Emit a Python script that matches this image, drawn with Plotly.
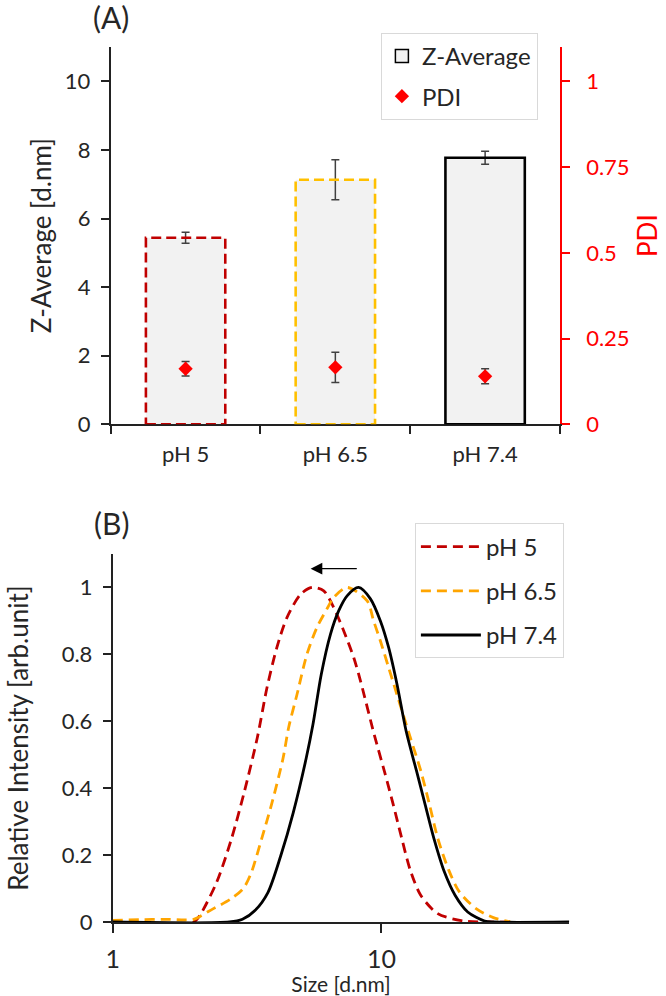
import math
import plotly.graph_objects as go

# ---------------- Panel A data ----------------
ph_labels = ["pH 5", "pH 6.5", "pH 7.4"]
z_average = [5.44, 7.13, 7.77]
z_average_err = [0.16, 0.58, 0.19]
pdi = [0.162, 0.166, 0.140]
pdi_err = [0.021, 0.044, 0.022]

# ---------------- Panel B data ----------------
size_ph5 = [1.0, 2.0, 2.11, 2.44, 2.77, 3.09, 3.45, 3.75, 4.08, 4.45, 5.01, 5.52, 6.10,
            6.64, 7.24, 7.89, 8.36, 9.40, 10.3, 11.07, 11.9, 12.8, 14.0, 16.2, 20.2, 25.1, 30.0]
int_ph5 = [0.0, 0.0, 0.02, 0.12, 0.25, 0.39, 0.55, 0.70, 0.82, 0.91, 0.98, 1.0, 0.99,
           0.94, 0.87, 0.79, 0.72, 0.56, 0.445, 0.35, 0.25, 0.155, 0.08, 0.025, 0.003, 0.0, 0.0]

size_ph65 = [1.0, 1.26, 1.58, 1.86, 2.0, 2.37, 2.74, 3.06, 3.27, 3.58, 3.92, 4.30, 4.52,
             4.85, 5.28, 5.75, 6.31, 6.64, 7.45, 8.85, 9.35, 9.91, 10.64, 11.12, 12.82,
             14.03, 15.1, 16.2, 17.8, 19.5, 22.5, 26.1, 30.2]
int_ph65 = [0.005, 0.007, 0.008, 0.006, 0.008, 0.04, 0.068, 0.10, 0.145, 0.248, 0.358, 0.488, 0.583,
            0.68, 0.80, 0.88, 0.94, 0.97, 1.0, 0.96, 0.90, 0.84, 0.76, 0.71, 0.55,
            0.45, 0.35, 0.25, 0.155, 0.09, 0.04, 0.013, 0.0]

size_ph74 = [1.0, 2.72, 3.04, 3.39, 3.78, 4.22, 4.70, 5.25, 5.56, 5.97, 6.46, 6.93, 7.45,
             8.22, 9.10, 9.91, 10.64, 11.43, 12.36, 13.52, 14.55, 15.67, 17.14, 18.79,
             20.94, 24.2, 26.1, 50.0]
int_ph74 = [0.0, 0.0, 0.008, 0.035, 0.088, 0.198, 0.328, 0.49, 0.59, 0.74, 0.86, 0.93, 0.975,
            1.0, 0.966, 0.90, 0.82, 0.71, 0.57, 0.45, 0.35, 0.25, 0.15, 0.08,
            0.03, 0.003, 0.0, 0.0]

series_names = ["pH 5", "pH 6.5", "pH 7.4"]

# Arrow (peak shift from pH 7.4 to pH 5)
arrow_from = 8.2
arrow_to = 5.45
arrow_level = 1.056

# ---------------- styles ----------------
FONT = "Lato"
TXT = "#262626"
bar_fill = "#F2F2F2"
bar_edge = ["#C00000", "#FFC000", "#000000"]
bar_dash = ["10px,5px", "10px,5px", "solid"]
line_colors = ["#C00000", "#FFA500", "#000000"]
line_dash = ["10px,6px", "10px,6px", "solid"]
bar_width = 0.53

W, H = 666, 996

def px_x(p):
    return p / W

def px_y(p):
    return (H - p) / H

fig = go.Figure()

# Bars (fill)
fig.add_trace(go.Bar(
    x=ph_labels, y=z_average, width=bar_width,
    marker=dict(color=bar_fill, line=dict(width=0)),
    error_y=dict(type="data", array=z_average_err, color="#404040", thickness=1.5, width=4),
    showlegend=False, hoverinfo="skip", xaxis="x", yaxis="y"))

# Legend proxy for Z-Average
fig.add_trace(go.Scatter(
    x=[None], y=[None], mode="markers", name="Z-Average",
    marker=dict(symbol="square", size=13, color=bar_fill, line=dict(color="#000000", width=1.5)),
    legend="legend", legendgroup="z", xaxis="x", yaxis="y"))

# PDI
fig.add_trace(go.Scatter(
    x=ph_labels, y=pdi, mode="markers", name="PDI",
    marker=dict(symbol="diamond", size=11, color="#FF0000"),
    error_y=dict(type="data", array=pdi_err, color="#404040", thickness=1.5, width=4),
    legend="legend", legendgroup="p", xaxis="x", yaxis="y2"))

# Bar outlines
shapes = []
for i, (val, col, dsh) in enumerate(zip(z_average, bar_edge, bar_dash)):
    shapes.append(dict(type="rect", xref="x", yref="y",
                       x0=i - bar_width / 2, x1=i + bar_width / 2, y0=0, y1=val,
                       line=dict(color=col, width=2.6, dash=dsh), layer="above"))

# Panel B curves
for nm, xs, ys, col, dsh, grp in zip(series_names, [size_ph5, size_ph65, size_ph74],
                                     [int_ph5, int_ph65, int_ph74], line_colors, line_dash,
                                     ["a", "b", "c"]):
    fig.add_trace(go.Scatter(
        x=xs, y=ys, mode="lines", name=nm,
        line=dict(color=col, width=2.8, dash=dsh, shape="spline", smoothing=0.8),
        legend="legend2", legendgroup=grp, xaxis="x2", yaxis="y3"))

axis_common = dict(showgrid=False, zeroline=False, showline=True, ticks="outside",
                   automargin=False)

fig.update_layout(
    width=W, height=H,
    margin=dict(l=0, r=0, t=0, b=0),
    paper_bgcolor="white", plot_bgcolor="rgba(0,0,0,0)",
    font=dict(family=FONT, color=TXT, size=22),
    showlegend=True,
    shapes=shapes,
    xaxis=dict(**axis_common, domain=[px_x(110.7), px_x(560)], anchor="y",
               type="category", range=[-0.5, 2.5], tickson="boundaries",
               ticklen=8, tickwidth=1.5, tickcolor="#222", linecolor="#222", linewidth=1.5,
               tickfont=dict(size=22, color=TXT), ticklabelstandoff=10),
    yaxis=dict(**axis_common, domain=[px_y(424.3), px_y(47)], anchor="x",
               range=[0, 11], tick0=0, dtick=2,
               ticklen=8, tickwidth=1.5, tickcolor="#222", linecolor="#222", linewidth=1.8,
               tickfont=dict(size=22, color=TXT), ticklabelstandoff=6,
               title=dict(text="Z-Average [d.nm]", font=dict(size=26, color=TXT), standoff=6)),
    yaxis2=dict(**axis_common, overlaying="y", side="right", anchor="x",
                range=[0, 1.1], tickvals=[0, 0.25, 0.5, 0.75, 1],
                ticktext=["0", "0.25", "0.5", "0.75", "1"],
                ticklen=8, tickwidth=1.5, tickcolor="#FF0000", linecolor="#FF0000", linewidth=1.5,
                tickfont=dict(size=22, color="#FF0000"), ticklabelstandoff=12,
                title=dict(text="PDI", font=dict(size=26, color="#FF0000"), standoff=10)),
    xaxis2=dict(**axis_common, domain=[px_x(112.7), px_x(569.3)], anchor="y3",
                type="log", range=[0, math.log10(50)], tickvals=[1, 10], ticktext=["1", "10"],
                ticklen=9, tickwidth=1.5, tickcolor="#222", linecolor="#222", linewidth=1.8,
                tickfont=dict(size=25, color=TXT), ticklabelstandoff=5,
                title=dict(text="Size [d.nm]", font=dict(size=21, color=TXT), standoff=0)),
    yaxis3=dict(**axis_common, domain=[px_y(922), px_y(554)], anchor="x2",
                range=[0, 1.1], tick0=0, dtick=0.2,
                ticklen=8, tickwidth=1.5, tickcolor="#222", linecolor="#222", linewidth=1.8,
                tickfont=dict(size=22, color=TXT), ticklabelstandoff=6,
                title=dict(text="Relative Intensity [arb.unit]", font=dict(size=26, color=TXT),
                           standoff=26)),
    legend=dict(x=px_x(380.7), y=px_y(32.7), xanchor="left", yanchor="top",
                bgcolor="white", bordercolor="#D9D9D9", borderwidth=1.2,
                font=dict(size=24, color=TXT), traceorder="grouped", tracegroupgap=6,
                itemwidth=30),
    legend2=dict(x=px_x(414.7), y=px_y(523.3), xanchor="left", yanchor="top",
                 bgcolor="white", bordercolor="#D9D9D9", borderwidth=1.2,
                 font=dict(size=24, color=TXT), traceorder="grouped", tracegroupgap=10,
                 itemwidth=60),
    annotations=[
        dict(text="(A)", xref="paper", yref="paper", x=px_x(111), y=px_y(17),
             xanchor="center", yanchor="middle", showarrow=False,
             font=dict(size=30, color=TXT)),
        dict(text="(B)", xref="paper", yref="paper", x=px_x(111), y=px_y(523),
             xanchor="center", yanchor="middle", showarrow=False,
             font=dict(size=30, color=TXT)),
        dict(text="", xref="x2", yref="y3", x=math.log10(arrow_to), y=arrow_level,
             axref="x2", ayref="y3", ax=math.log10(arrow_from), ay=arrow_level,
             showarrow=True, arrowhead=2, arrowsize=1.8, arrowwidth=1.3,
             arrowcolor="#000000"),
    ],
)

fig.write_html("out.html")
